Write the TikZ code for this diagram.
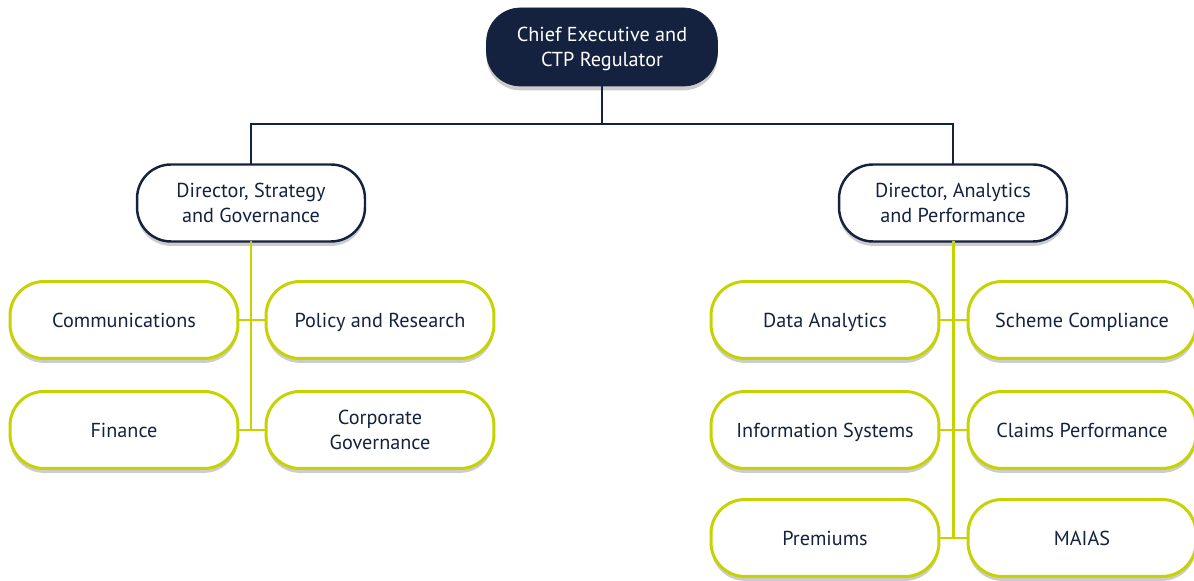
\documentclass[tikz,border=0pt]{standalone}
\usepackage{fontspec}
\setmainfont{PT Sans}
\usepackage{tikz,tkz-graph}
\usetikzlibrary{shadows}
\definecolor{ctpNavy}{HTML}{15223F}
\definecolor{ctpLime}{HTML}{C6D300}
\newcommand{\boxStrut}{\vrule width 0pt height 12.5pt depth 4pt\relax}
\newcommand{\topStrut}{\vrule width 0pt height 26.7pt depth 4pt\relax}
\tikzstyle{boxStyle}=[shape = rectangle, rounded corners = 0.68cm, minimum width = 4.56cm, minimum height = 1.54cm, inner sep = 2pt, align = center, font = \fontsize{11.5}{14.2}\selectfont, execute at begin node = \boxStrut, execute at end node = \boxStrut, drop shadow = {shadow xshift = 0pt, shadow yshift = -2.5pt, opacity = 0.2, fill = black}]
\tikzstyle{twoLine}=[execute at begin node = \topStrut]

\begin{document}
\begin{tikzpicture}[x = 0.02cm, y = 0.02cm]
\tikzstyle{VertexStyle} = []
\tikzstyle{chiefStyle}=[boxStyle, twoLine, fill = ctpNavy, draw = ctpNavy, text = white, minimum width = 4.62cm, minimum height = 1.56cm]
\tikzstyle{directorStyle}=[boxStyle, twoLine, fill = white, draw = ctpNavy, line width = 1.4pt, text = ctpNavy]
\tikzstyle{teamStyle}=[boxStyle, fill = white, draw = ctpLime, line width = 1.7pt, text = ctpNavy]
\tikzstyle{teamTwoStyle}=[teamStyle, twoLine]
\tikzstyle{navyLine}=[draw = ctpNavy, line width = 1.1pt]
\tikzstyle{limeLine}=[draw = ctpLime, line width = 1.7pt]
\useasboundingbox (0,0) rectangle (1194,581);
\coordinate (bus) at (602,457);
\coordinate (spineL) at (251,151);
\coordinate (spineR) at (953,43);
\Vertex[style = chiefStyle, x = 602, y = 534, L = {Chief Executive and\\CTP Regulator}]{chief}
\Vertex[style = directorStyle, x = 251, y = 378, L = {Director, Strategy\\and Governance}]{dirSG}
\Vertex[style = directorStyle, x = 953, y = 378, L = {Director, Analytics\\and Performance}]{dirAP}
\Vertex[style = teamStyle, x = 124, y = 261, L = {Communications}]{comms}
\Vertex[style = teamStyle, x = 380, y = 261, L = {Policy and Research}]{policy}
\Vertex[style = teamStyle, x = 124, y = 151, L = {Finance}]{finance}
\Vertex[style = teamTwoStyle, x = 380, y = 151, L = {Corporate\\Governance}]{corpgov}
\Vertex[style = teamStyle, x = 825, y = 261, L = {Data Analytics}]{data}
\Vertex[style = teamStyle, x = 1082, y = 261, L = {Scheme Compliance}]{scheme}
\Vertex[style = teamStyle, x = 825, y = 151, L = {Information Systems}]{infosys}
\Vertex[style = teamStyle, x = 1082, y = 151, L = {Claims Performance}]{claims}
\Vertex[style = teamStyle, x = 825, y = 43, L = {Premiums}]{premiums}
\Vertex[style = teamStyle, x = 1082, y = 43, L = {MAIAS}]{maias}
\draw[navyLine] (chief.south) -- (bus);
\draw[navyLine] (dirSG.north) |- (bus);
\draw[navyLine] (dirAP.north) |- (bus);
\draw[limeLine] (dirSG.south) -- (spineL);
\draw[limeLine] (comms.east) -- (policy.west);
\draw[limeLine] (finance.east) -- (corpgov.west);
\draw[limeLine] (dirAP.south) -- (spineR);
\draw[limeLine] (data.east) -- (scheme.west);
\draw[limeLine] (infosys.east) -- (claims.west);
\draw[limeLine] (premiums.east) -- (maias.west);
\end{tikzpicture}
\end{document}
